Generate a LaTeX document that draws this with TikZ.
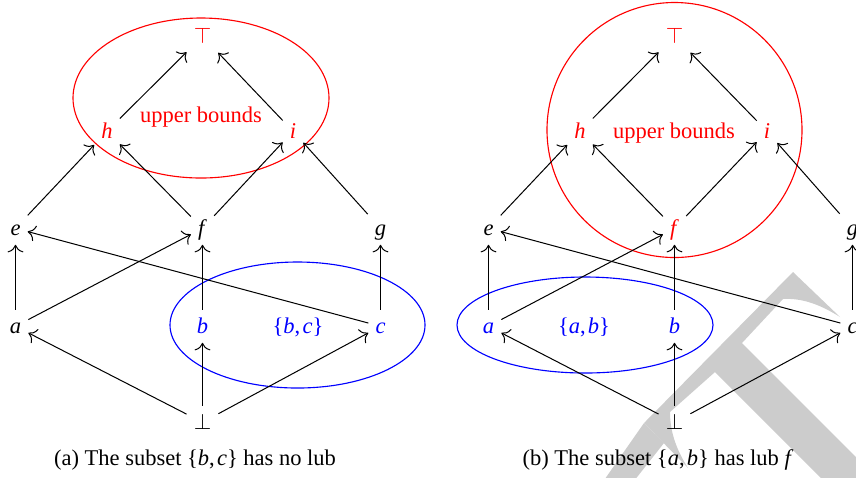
\documentclass[tikz,border=0pt]{standalone}
\usepackage{fontspec}
\setmainfont{Liberation Serif}
\usetikzlibrary{arrows.meta}
\begin{document}
\begin{tikzpicture}[x=0.4444pt,y=-0.4444pt,
  v/.style={anchor=base,inner sep=3pt,text height=1.55ex,text depth=.25ex},
  lbl/.style={anchor=base,inner sep=1pt},
  ar/.style={-{To[scale=1.3]},line width=0.45pt},
  ring/.style={line width=0.5pt},
  wm/.style={fill=black!20}]
\useasboundingbox (0,0) rectangle (856,477);
\clip (0,0) rectangle (856,477);
% watermark (part of a large diagonal letter T)
\fill[wm] (793,272) -- (840,317) .. controls (818,303) and (800,298) .. (783,299)
  -- (742,343) -- (900,501) -- (844,501) -- (715,372) -- (670,412)
  .. controls (670,428) and (674,446) .. (688,468) -- (644,423) -- cycle;
\fill[wm] (644,423) -- (600,486) -- (630,486) -- (664,443) -- cycle;
% ---------- left diagram ----------
\draw[red,ring] (201,98) ellipse [x radius=128, y radius=80];
\draw[blue,ring] (297.5,325) ellipse [x radius=127.5, y radius=63];
\node[v,red] (T1) at (202.5,43) {$\top$};
\node[v,red] (h1) at (107,138) {\textit{h}};
\node[v,red] (i1) at (293,138) {\textit{i}};
\node[lbl,red] (ub1) at (201,122) {upper bounds};
\node[v] (e1) at (15.5,235) {\textit{e}};
\node[v] (f1) at (202.5,235) {\textit{f}};
\node[v] (g1) at (380.5,235) {\textit{g}};
\node[v] (a1) at (15.5,333) {\textit{a}};
\node[v,blue] (b1) at (202.5,333) {\textit{b}};
\node[v,blue] (c1) at (380.5,333) {\textit{c}};
\node[lbl,blue] (s1) at (298,333) {\{\textit{b},\kern1pt\textit{c}\}};
\node[v] (B1) at (202.5,429) {$\bot$};
\node[lbl] (cap1) at (195,465) {(a) The subset \{\textit{b},\kern1pt\textit{c}\} has no lub};
\draw[ar] (h1) -- (T1);
\draw[ar] (i1) -- (T1);
\draw[ar] (e1) -- (h1);
\draw[ar] (f1) -- (h1);
\draw[ar] (f1) -- (i1);
\draw[ar] (g1) -- (i1);
\draw[ar] (a1) -- (e1);
\draw[ar] (a1) -- (f1);
\draw[ar] (b1) -- (f1);
\draw[ar] (c1) -- (e1);
\draw[ar] (c1) -- (g1);
\draw[ar] (B1) -- (a1);
\draw[ar] (B1) -- (b1);
\draw[ar] (B1) -- (c1);
% ---------- right diagram ----------
\draw[red,ring] (674.5,130) circle [radius=127.5];
\draw[blue,ring] (585,325) ellipse [x radius=128, y radius=48];
\node[v,red] (T2) at (674.5,43) {$\top$};
\node[v,red] (h2) at (580,138) {\textit{h}};
\node[v,red] (i2) at (767,138) {\textit{i}};
\node[lbl,red] (ub2) at (674,138) {upper bounds};
\node[v] (e2) at (488.5,235) {\textit{e}};
\node[v,red] (f2) at (674.5,235) {\textit{f}};
\node[v] (g2) at (852.5,235) {\textit{g}};
\node[v,blue] (a2) at (488.5,333) {\textit{a}};
\node[v,blue] (b2) at (674.5,333) {\textit{b}};
\node[v] (c2) at (852.5,333) {\textit{c}};
\node[lbl,blue] (s2) at (584,333) {\{\textit{a},\kern1pt\textit{b}\}};
\node[v] (B2) at (674.5,429) {$\bot$};
\node[lbl] (cap2) at (658,465) {(b) The subset \{\textit{a},\kern1pt\textit{b}\} has lub \textit{f}};
\draw[ar] (h2) -- (T2);
\draw[ar] (i2) -- (T2);
\draw[ar] (e2) -- (h2);
\draw[ar] (f2) -- (h2);
\draw[ar] (f2) -- (i2);
\draw[ar] (g2) -- (i2);
\draw[ar] (a2) -- (e2);
\draw[ar] (a2) -- (f2);
\draw[ar] (b2) -- (f2);
\draw[ar] (c2) -- (e2);
\draw[ar] (c2) -- (g2);
\draw[ar] (B2) -- (a2);
\draw[ar] (B2) -- (b2);
\draw[ar] (B2) -- (c2);
\end{tikzpicture}
\end{document}
